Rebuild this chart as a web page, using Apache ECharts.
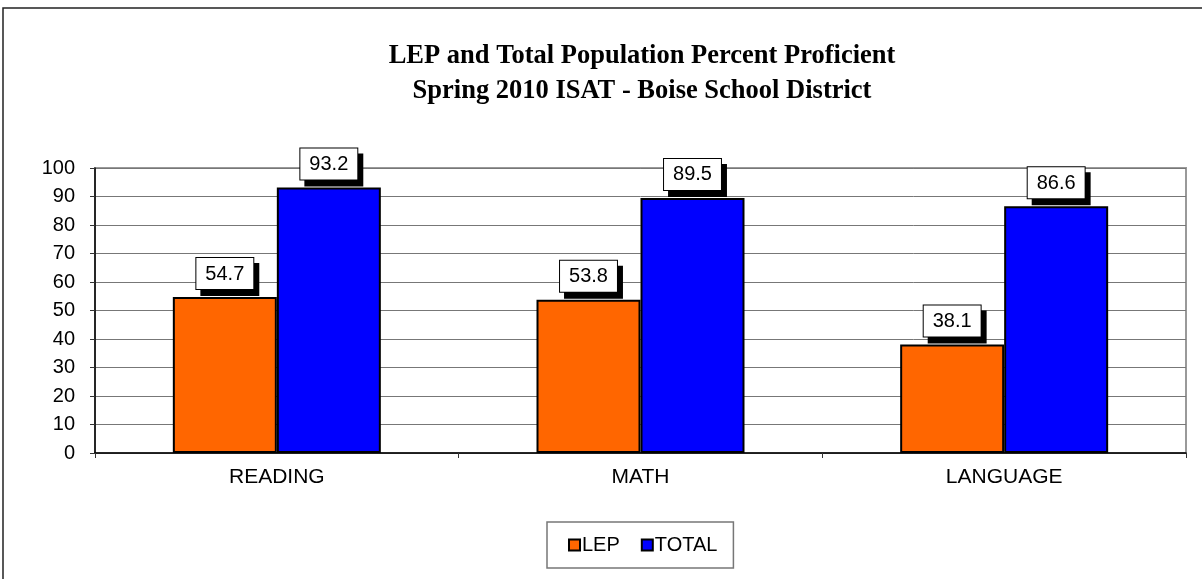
<!DOCTYPE html>
<html>
<head>
<meta charset="utf-8">
<script src="https://cdn.jsdelivr.net/npm/echarts@6/dist/echarts.min.js"></script>
<style>
  html, body { margin: 0; padding: 0; background: #fff; }
  #chart { width: 1202px; height: 579px; }
</style>
</head>
<body>
<div id="chart"></div>
<script>
const categories = ['READING', 'MATH', 'LANGUAGE'];
const lepValues = [54.7, 53.8, 38.1];
const totalValues = [93.2, 89.5, 86.6];

const chart = echarts.init(document.getElementById('chart'));

// 数据标签：白底黑框，右下角带黑色硬阴影
const labelStyle = {
  show: true,
  position: 'top',
  distance: 8,
  fontFamily: 'Liberation Sans, Arial',
  fontSize: 20,
  color: '#000',
  backgroundColor: '#fff',
  borderColor: '#000',
  borderWidth: 1,
  padding: [6, 9, 5, 9],
  shadowColor: '#000',
  shadowBlur: 0,
  shadowOffsetX: 5,
  shadowOffsetY: 6
};

chart.setOption({
  animation: false,
  textStyle: { fontFamily: 'Liberation Sans, Arial' },
  title: {
    text: 'LEP and Total Population Percent Proficient\nSpring 2010 ISAT - Boise School District',
    left: 637,
    top: 34,
    textAlign: 'center',
    textStyle: {
      fontFamily: 'Liberation Serif, serif',
      fontWeight: 'bold',
      fontSize: 26.5,
      lineHeight: 35,
      color: '#000'
    }
  },
  graphic: [{
    type: 'rect',
    shape: { x: 3, y: 8, width: 1400, height: 800 },
    style: { fill: 'none', stroke: '#222', lineWidth: 1.5 },
    silent: true
  }],
  legend: {
    left: 547,
    top: 522,
    padding: [13, 16, 13, 21],
    itemGap: 21,
    itemWidth: 11,
    itemHeight: 11,
    borderColor: '#777',
    borderWidth: 1.5,
    icon: 'rect',
    textStyle: { fontSize: 20, color: '#000', padding: [0, 0, 0, -3] },
    data: ['LEP', 'TOTAL']
  },
  grid: {
    left: 95,
    right: 16,
    top: 168,
    bottom: 126,
    show: true,
    borderColor: '#999',
    borderWidth: 2
  },
  xAxis: {
    type: 'category',
    data: categories,
    axisLine: { lineStyle: { color: '#000', width: 1.5 } },
    axisTick: { show: true, length: 5, lineStyle: { color: '#333' } },
    axisLabel: { fontSize: 21, color: '#000', margin: 14 }
  },
  yAxis: {
    type: 'value',
    min: 0,
    max: 100,
    interval: 10,
    axisLine: { show: true, lineStyle: { color: '#000', width: 1.5 } },
    axisTick: { show: true, length: 5, lineStyle: { color: '#333' } },
    axisLabel: { fontSize: 20, color: '#000', margin: 20 },
    splitLine: { lineStyle: { color: '#777', width: 1 } }
  },
  series: [
    {
      name: 'LEP',
      type: 'bar',
      data: lepValues,
      barWidth: 104,
      barGap: '0%',
      itemStyle: { color: '#FF6600', borderColor: '#000', borderWidth: 2 },
      label: labelStyle
    },
    {
      name: 'TOTAL',
      type: 'bar',
      data: totalValues,
      barWidth: 104,
      itemStyle: { color: '#0000FF', borderColor: '#000', borderWidth: 2 },
      label: labelStyle
    }
  ]
});
</script>
</body>
</html>
